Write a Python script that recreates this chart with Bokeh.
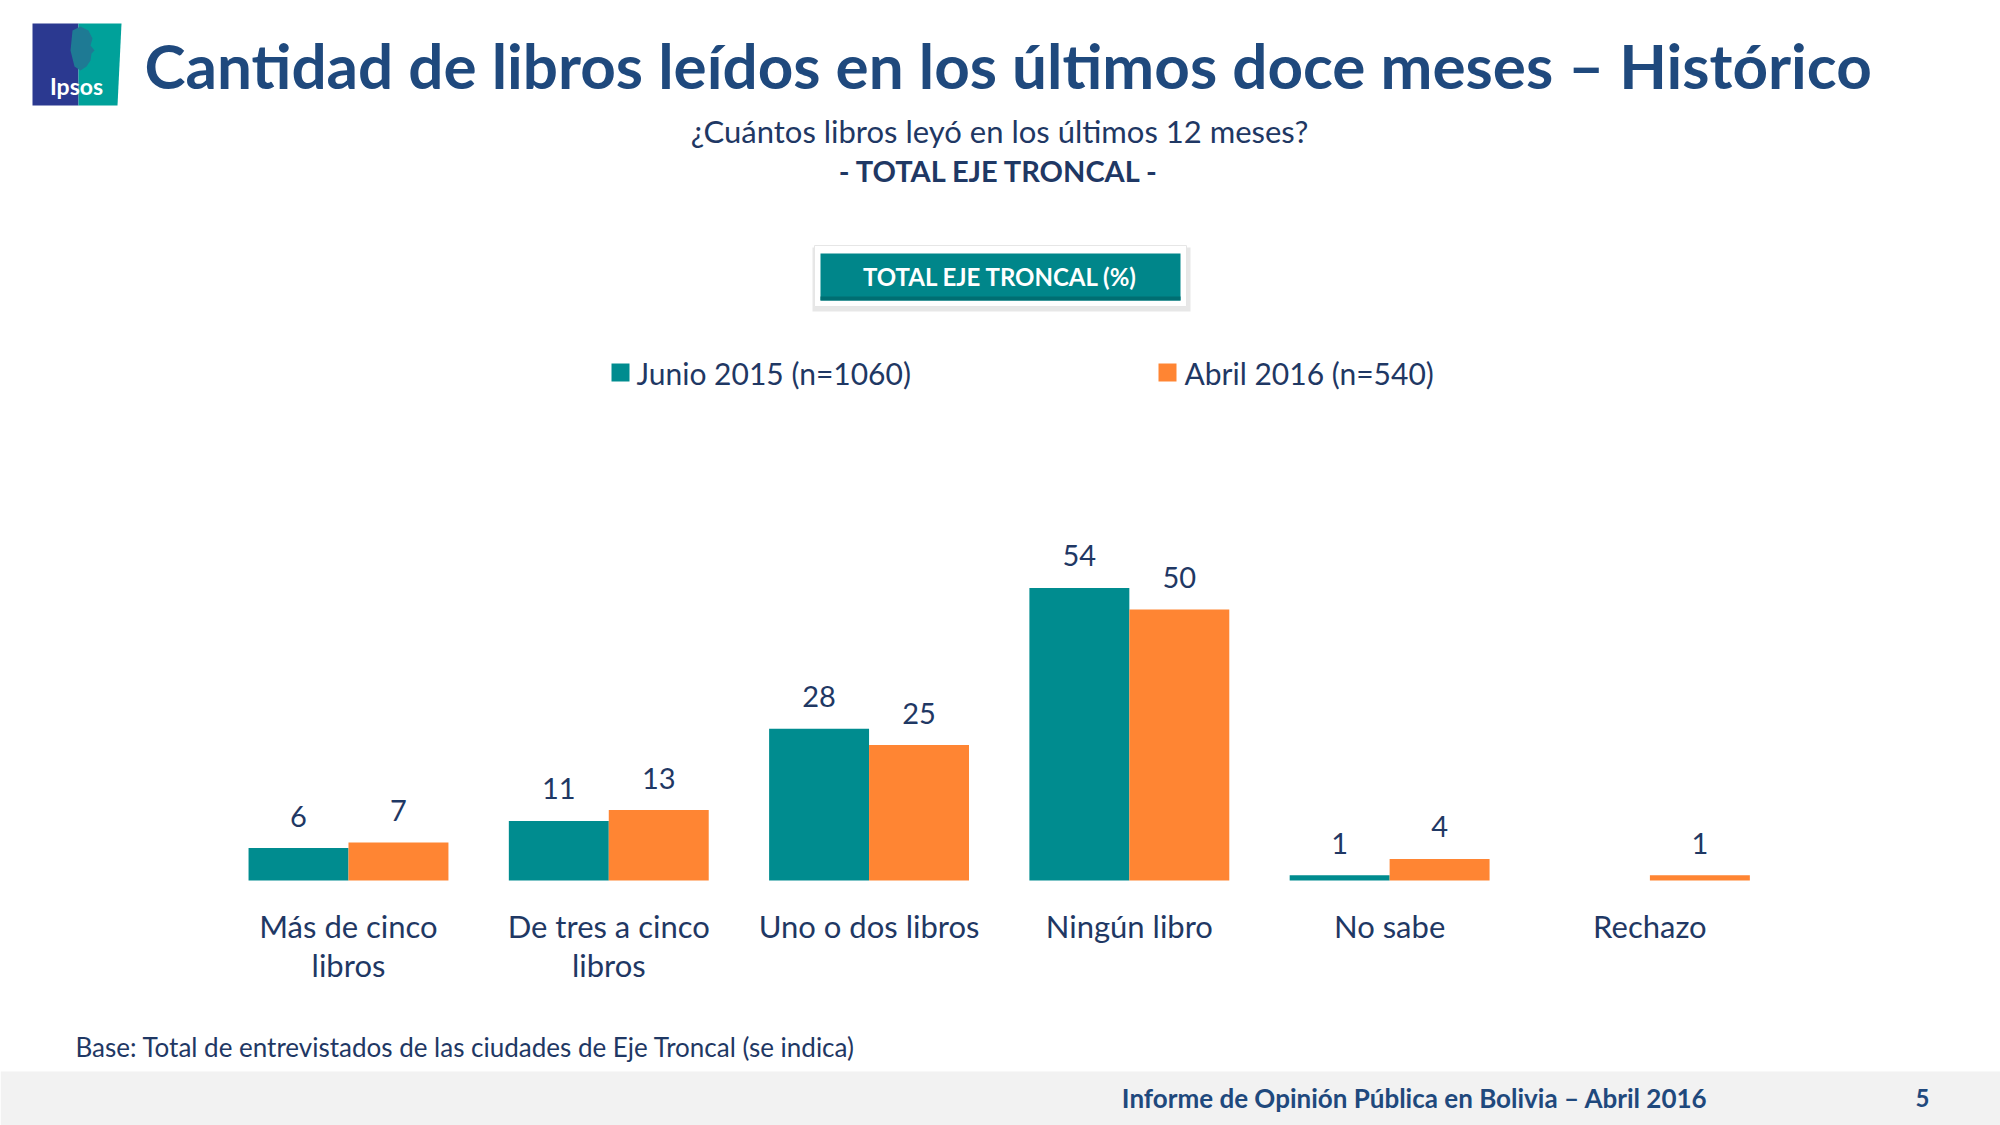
from bokeh.plotting import figure
from bokeh.models import Range1d, ColumnDataSource
from bokeh.core.properties import value
from bokeh.embed import file_html
from bokeh.resources import INLINE

# ---- data ----
categories = ["Más de cinco libros", "De tres a cinco libros", "Uno o dos libros",
              "Ningún libro", "No sabe", "Rechazo"]
label_line1 = ["Más de cinco", "De tres a cinco", "Uno o dos libros",
               "Ningún libro", "No sabe", "Rechazo"]
label_line2 = ["libros", "libros", "", "", "", ""]
series_names = ["Junio 2015 (n=1060)", "Abril 2016 (n=540)"]
junio_2015 = [6, 11, 28, 54, 1, 0]
abril_2016 = [7, 13, 25, 50, 4, 1]

TEAL = "#008C8F"
ORANGE = "#FF8533"
DARK = "#1F3864"
TITLE_C = "#1F497D"
FONT = "Lato"

BAR_W = 0.384
idx = list(range(len(categories)))
src = ColumnDataSource(dict(
    cat=categories, i=idx,
    xj=[i - BAR_W / 2 for i in idx], xa=[i + BAR_W / 2 for i in idx],
    jun=junio_2015, abr=abril_2016,
    jun_lbl=[str(v) if v > 0 else "" for v in junio_2015],
    abr_lbl=[str(v) if v > 0 else "" for v in abril_2016],
    l1=label_line1, l2=label_line2, zero=[0] * len(categories),
))

p = figure(width=2000, height=1125, title=None,
           x_range=Range1d(-1.337, 6.347), y_range=Range1d(-45.2, 162.4),
           x_axis_location=None, y_axis_location=None,
           output_backend="svg", toolbar_location=None, min_border=0)
p.grid.visible = False
p.outline_line_color = None
p.background_fill_color = "white"
p.border_fill_color = "white"

# pixel-space ranges for decoration (x from left, y from top)
p.extra_x_ranges = {"px": Range1d(0, 2000)}
p.extra_y_ranges = {"px": Range1d(1125, 0)}
PX = dict(x_range_name="px", y_range_name="px")

# footer band
p.quad(left=[0], right=[2000], top=[1071], bottom=[1125], color="#F2F2F2",
       line_color=None, **PX)

# logo
p.quad(left=[32], right=[78], top=[23], bottom=[105], color="#2B3990", line_color=None, **PX)
p.patch(x=[78, 121, 117, 78], y=[23, 23, 105, 105], color="#00A19A", line_color=None, **PX)
p.patch(x=[72, 80, 88, 92, 90, 94, 91, 90, 86, 80, 74, 70],
        y=[30, 26, 30, 38, 45, 50, 53, 60, 66, 70, 66, 50],
        color="#1E7A94", line_color=None, **PX)
p.text(x=[76], y=[85], text=["Ipsos"], text_color="white", text_font=value(FONT),
       text_font_style="bold", text_font_size="23px", text_align="center",
       text_baseline="middle", **PX)

# title & subtitles
p.text(x=[144], y=[64], text=["Cantidad de libros leídos en los últimos doce meses – Histórico"],
       text_color=TITLE_C, text_font=value(FONT), text_font_style="bold",
       text_font_size="62px", text_align="left", text_baseline="middle", **PX)
p.text(x=[999], y=[130], text=["¿Cuántos libros leyó en los últimos 12 meses?"],
       text_color=DARK, text_font=value(FONT), text_font_size="31px",
       text_align="center", text_baseline="middle", **PX)
p.text(x=[999], y=[170], text=["- TOTAL EJE TRONCAL -"],
       text_color=DARK, text_font=value(FONT), text_font_style="bold",
       text_font_size="29px", text_align="center", text_baseline="middle", **PX)

# boxed header
p.quad(left=[812], right=[1190], top=[247], bottom=[311], color="#D0D0D0", alpha=0.5,
       line_color=None, **PX)
p.quad(left=[814], right=[1186], top=[245], bottom=[306], color="white",
       line_color="#E6E6E6", line_width=1, **PX)
p.quad(left=[820], right=[1180], top=[253], bottom=[300], color="#00868A",
       line_color=None, **PX)
p.quad(left=[820], right=[1180], top=[296], bottom=[300], color="#006E72",
       line_color=None, **PX)
p.text(x=[1000], y=[276], text=["TOTAL EJE TRONCAL (%)"], text_color="white",
       text_font=value(FONT), text_font_style="bold", text_font_size="24px",
       text_align="center", text_baseline="middle", **PX)

# legend
p.quad(left=[611, 1158], right=[629, 1176], top=[363, 363], bottom=[381, 381],
       color=[TEAL, ORANGE], line_color=None, **PX)
p.text(x=[636, 1184], y=[372, 372], text=series_names, text_color=DARK,
       text_font=value(FONT), text_font_size="30px", text_align="left",
       text_baseline="middle", **PX)

# bars
p.vbar(x="xj", top="jun", width=BAR_W, bottom=0, source=src, color=TEAL, line_color=None)
p.vbar(x="xa", top="abr", width=BAR_W, bottom=0, source=src, color=ORANGE, line_color=None)

# value labels
lbl = dict(text_color=DARK, text_font=value(FONT), text_font_size="29px",
           text_align="center", text_baseline="middle", y_offset=-32, source=src)
p.text(x="xj", y="jun", text="jun_lbl", **lbl)
p.text(x="xa", y="abr", text="abr_lbl", **lbl)

# category labels
cl = dict(text_color=DARK, text_font=value(FONT), text_font_size="31px",
          text_align="center", text_baseline="middle", source=src)
p.text(x="i", y="zero", text="l1", y_offset=45, **cl)
p.text(x="i", y="zero", text="l2", y_offset=84, **cl)

# base note & footer
p.text(x=[75], y=[1046], text=["Base: Total de entrevistados de las ciudades de Eje Troncal (se indica)"],
       text_color=DARK, text_font=value(FONT), text_font_size="26px",
       text_align="left", text_baseline="middle", **PX)
p.text(x=[1707], y=[1097], text=["Informe de Opinión Pública en Bolivia – Abril 2016"],
       text_color=TITLE_C, text_font=value(FONT), text_font_style="bold",
       text_font_size="26px", text_align="right", text_baseline="middle", **PX)
p.text(x=[1922], y=[1097], text=["5"], text_color=TITLE_C, text_font=value(FONT),
       text_font_style="bold", text_font_size="24px", text_align="center",
       text_baseline="middle", **PX)

open("out.html", "w").write(file_html(p, INLINE))
